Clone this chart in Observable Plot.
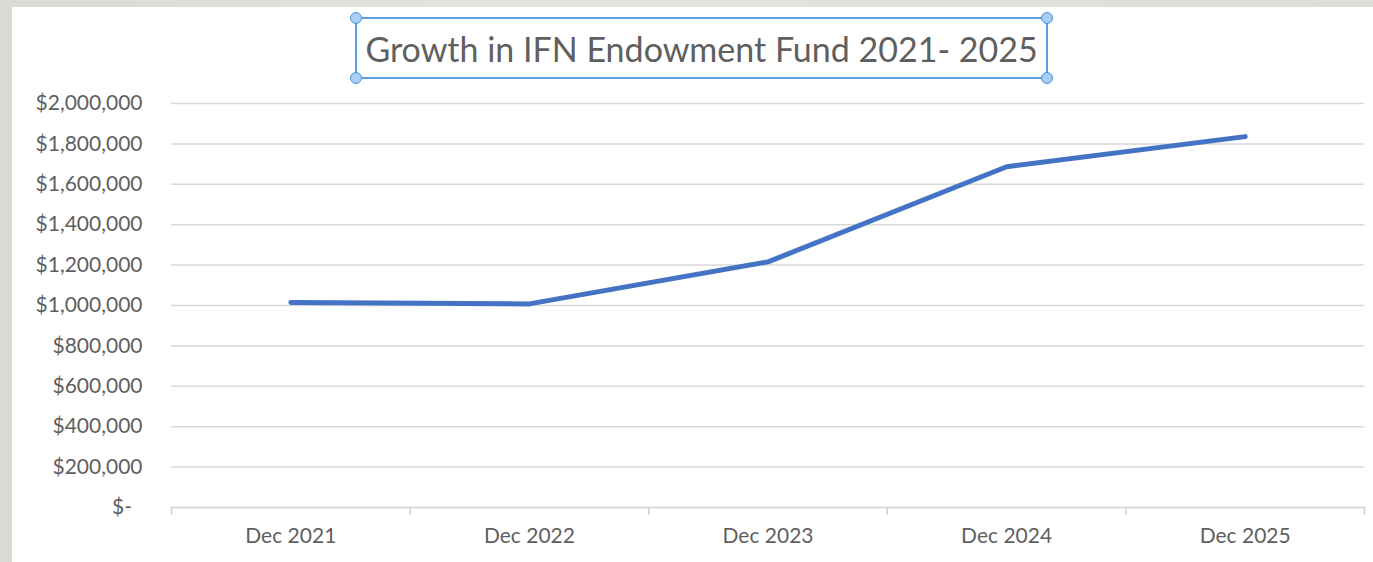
<!DOCTYPE html>
<html>
<head>
<meta charset="utf-8">
<script src="https://cdn.jsdelivr.net/npm/d3@7"></script>
<script src="https://cdn.jsdelivr.net/npm/@observablehq/plot@0.6"></script>
<style>
  html, body { margin: 0; padding: 0; }
  body { width: 1373px; height: 562px; overflow: hidden; position: relative;
         background: linear-gradient(90deg, #d9d9d5 0%, #e4e4e0 40%, #dcdcd8 100%); }
  #panel { position: absolute; left: 12px; top: 7px; width: 1361px; height: 555px; background: #fff; }
  #titlebox { position: absolute; left: 343px; top: 10px; width: 693px; height: 62px;
              border: 2.5px solid #5a9ee6; box-sizing: border-box; }
  #title { position: absolute; left: 0; right: 0; top: 9px; text-align: center;
           font-family: Lato, "Noto Sans", sans-serif; font-size: 34px; color: #5f5f5f; white-space: nowrap; }
  .handle { position: absolute; width: 12px; height: 12px; border-radius: 50%;
            background: #a9cdf3; border: 1.5px solid #4a92e3; box-sizing: border-box; }
  #chart { position: absolute; left: 0; top: 78px; }
</style>
</head>
<body>
<div id="panel">
  <div id="titlebox">
    <div id="title">Growth in IFN Endowment Fund 2021- 2025</div>
    <div class="handle" style="left:-7px; top:-7px"></div>
    <div class="handle" style="right:-7px; top:-7px"></div>
    <div class="handle" style="left:-7px; bottom:-7px"></div>
    <div class="handle" style="right:-7px; bottom:-7px"></div>
  </div>
  <div id="chart"></div>
</div>
<script>
const periods = ["Dec 2021", "Dec 2022", "Dec 2023", "Dec 2024", "Dec 2025"];
const fundValues = [1015000, 1008000, 1216000, 1687000, 1836000];
const yTicks = [0, 200000, 400000, 600000, 800000, 1000000, 1200000, 1400000, 1600000, 1800000, 2000000];

const data = periods.map((p, i) => ({i, period: p, value: fundValues[i]}));
const boundaries = d3.range(periods.length + 1).map(i => i - 0.5);
const fmt = d3.format(",");
const yFormat = v => v === 0 ? "$-\u2002" : "$" + fmt(v);

const chart = Plot.plot({
  width: 1361,
  height: 477,
  marginLeft: 159,
  marginRight: 9,
  marginTop: 18,
  marginBottom: 55,
  style: {fontFamily: "Lato, 'Noto Sans', sans-serif", fontSize: "21px", color: "#595959", background: "transparent"},
  x: {type: "linear", domain: [-0.5, periods.length - 0.5], axis: null},
  y: {domain: [0, 2000000], axis: null},
  marks: [
    Plot.ruleY(yTicks.filter(v => v > 0), {stroke: "#d9d9d9", strokeWidth: 1.5}),
    Plot.ruleY([0], {stroke: "#d0d0d0", strokeWidth: 1.5}),
    Plot.ruleX(boundaries, {y1: 0, y2: 0, insetBottom: -8, stroke: "#d0d0d0", strokeWidth: 1.5}),
    Plot.axisY(yTicks, {tickSize: 0, tickPadding: 29, tickFormat: yFormat, fill: "#5f5f5f", label: null}),
    Plot.axisX(d3.range(periods.length), {tickSize: 0, tickPadding: 21, tickFormat: i => periods[i], fill: "#5f5f5f", label: null}),
    Plot.line(data, {x: "i", y: "value", stroke: "#4472c4", strokeWidth: 5, strokeLinecap: "round", strokeLinejoin: "round"})
  ]
});
document.getElementById("chart").appendChild(chart);
</script>
</body>
</html>
